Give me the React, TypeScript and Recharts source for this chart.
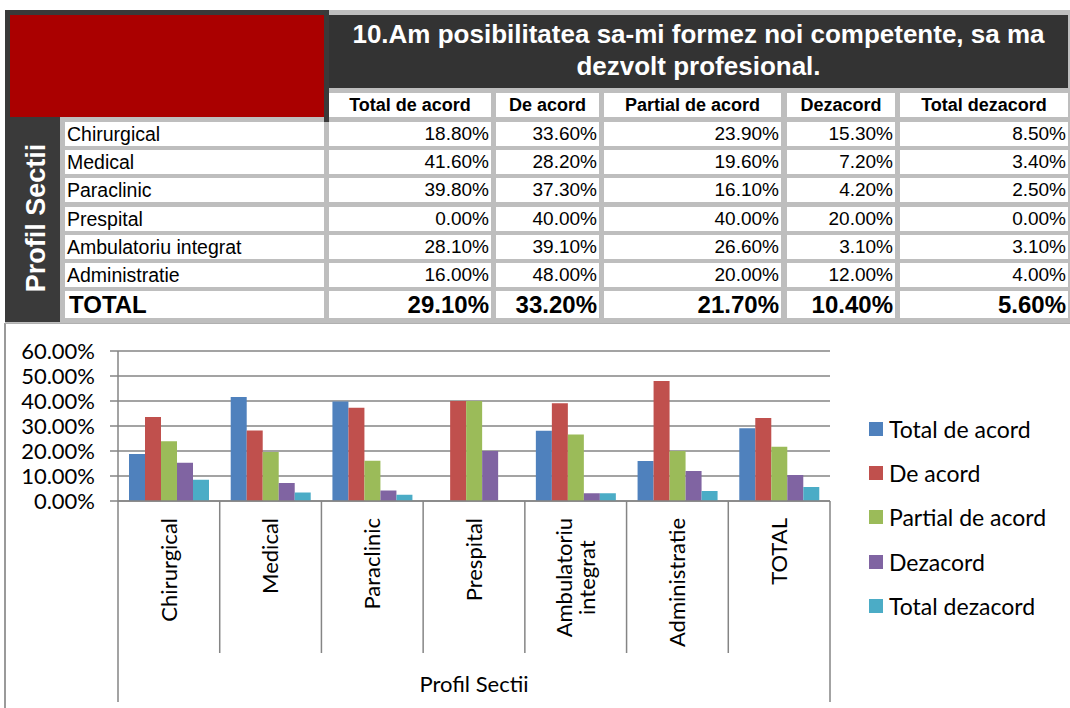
import React from "react";
import { BarChart, Bar, XAxis, YAxis, CartesianGrid, Legend } from "recharts";

const categories = [
  "Chirurgical",
  "Medical",
  "Paraclinic",
  "Prespital",
  "Ambulatoriu integrat",
  "Administratie",
  "TOTAL",
];
const totalDeAcord = [18.8, 41.6, 39.8, 0.0, 28.1, 16.0, 29.1];
const deAcord = [33.6, 28.2, 37.3, 40.0, 39.1, 48.0, 33.2];
const partialDeAcord = [23.9, 19.6, 16.1, 40.0, 26.6, 20.0, 21.7];
const dezacord = [15.3, 7.2, 4.2, 20.0, 3.1, 12.0, 10.4];
const totalDezacord = [8.5, 3.4, 2.5, 0.0, 3.1, 4.0, 5.6];
const seriesNames = ["Total de acord", "De acord", "Partial de acord", "Dezacord", "Total dezacord"];
const seriesColors = ["#4f81bd", "#c0504d", "#9bbb59", "#8064a2", "#4bacc6"];
const yTicks = [0, 10, 20, 30, 40, 50, 60];
const titleLines = ["10.Am posibilitatea sa-mi formez noi competente, sa ma", "dezvolt profesional."];
const sideTitle = "Profil Sectii";
const axisTitle = "Profil Sectii";

const seriesValues = [totalDeAcord, deAcord, partialDeAcord, dezacord, totalDezacord];
const keys = ["s0", "s1", "s2", "s3", "s4"];
const data = categories.map((name, i) => {
  const row: Record<string, any> = { name };
  keys.forEach((k, j) => (row[k] = seriesValues[j][i]));
  return row;
});

const pct = (v: number) => `${v.toFixed(2)}%`;

// table layout
const TABLE_FONT = "'Liberation Sans', Arial, sans-serif";
const colEdges = [
  [65, 324],
  [329, 491],
  [496, 599],
  [604, 781],
  [787, 895],
  [900, 1068],
];
const ROW0 = 122;
const ROW_PITCH = 28.2;

// chart layout
const CHART_FONT = "Lato, 'Open Sans', sans-serif";
const CHART_TOP = 323;
const CHART_W = 1070;
const CHART_H = 385;
const Y_AXIS_W = 118;
const RIGHT_M = 240;
const BAND = (CHART_W - Y_AXIS_W - RIGHT_M) / categories.length;
const GRID = "#858585";

let ctx: CanvasRenderingContext2D | null = null;
function textWidth(s: string) {
  if (!ctx) ctx = document.createElement("canvas").getContext("2d");
  if (!ctx) return s.length * 10;
  ctx.font = `22px ${CHART_FONT}`;
  return ctx.measureText(s).width;
}

function CategoryTick(props: any) {
  const { x, y, payload, index } = props;
  const half = BAND / 2;
  const last = index === categories.length - 1;
  const words = String(payload.value).split(" ");
  const maxW = Math.max(...words.map(textWidth));
  const lh = 23;
  return (
    <g>
      <line x1={x - half} x2={x - half} y1={y} y2={y + (index === 0 ? 201 : 152)} stroke={GRID} strokeWidth={1.5} />
      {last && <line x1={x + half} x2={x + half} y1={y} y2={y + 201} stroke={GRID} strokeWidth={1.5} />}
      <text
        transform={`translate(${x},${y + 17}) rotate(-90)`}
        textAnchor="middle"
        fontFamily={CHART_FONT}
        fontSize={22}
        fill="#000"
      >
        {words.map((w, i) => (
          <tspan key={i} x={-maxW / 2} y={(i - (words.length - 1) / 2) * lh} dy="0.35em">
            {w}
          </tspan>
        ))}
      </text>
    </g>
  );
}

function LegendBox() {
  return (
    <div style={{ fontFamily: CHART_FONT, fontSize: 23, color: "#000" }}>
      {seriesNames.map((n, i) => (
        <div key={n} style={{ height: 44.2, display: "flex", alignItems: "center", whiteSpace: "nowrap" }}>
          <span style={{ width: 14, height: 14, background: seriesColors[i], marginRight: 6, display: "inline-block" }} />
          <span>{n}</span>
        </div>
      ))}
    </div>
  );
}

const abs = (l: number, t: number, w: number, h: number, extra: React.CSSProperties = {}): React.CSSProperties => ({
  position: "absolute",
  left: l,
  top: t,
  width: w,
  height: h,
  boxSizing: "border-box",
  ...extra,
});

export default function App() {
  const rowCells = (top: number, h: number, label: string, vals: number[], bold: boolean) => (
    <React.Fragment key={label}>
      <div
        style={abs(colEdges[0][0], top, colEdges[0][1] - colEdges[0][0], h, {
          background: "#fff",
          fontSize: bold ? 24 : 19.5,
          fontWeight: bold ? 700 : 400,
          lineHeight: `${h}px`,
          paddingLeft: bold ? 4 : 2,
        })}
      >
        {label}
      </div>
      {vals.map((v, j) => (
        <div
          key={j}
          style={abs(colEdges[j + 1][0], top, colEdges[j + 1][1] - colEdges[j + 1][0], h, {
            background: "#fff",
            fontSize: bold ? 24 : 19,
            fontWeight: bold ? 700 : 400,
            lineHeight: `${h}px`,
            textAlign: "right",
            paddingRight: 2,
          })}
        >
          {pct(v)}
        </div>
      ))}
    </React.Fragment>
  );

  return (
    <div style={{ position: "absolute", left: 0, top: 0, width: 1070, height: 708, background: "#fff", fontFamily: TABLE_FONT, color: "#000" }}>
      {/* table frame */}
      <div style={abs(5, 10, 1065, 313, { background: "#bebebe" })} />
      <div style={abs(5, 10, 55, 312, { background: "#3a3a3a" })} />
      <div style={abs(5, 10, 324, 5, { background: "#3a3a3a" })} />
      <div style={abs(324, 10, 5, 112, { background: "#3a3a3a" })} />
      <div style={abs(10, 15, 314, 102, { background: "#aa0000" })} />
      <div
        style={abs(329, 15, 739, 73, {
          background: "#333333",
          color: "#fff",
          fontWeight: 700,
          fontSize: 26,
          lineHeight: "32px",
          textAlign: "center",
          paddingTop: 3,
          whiteSpace: "nowrap",
        })}
      >
        {titleLines[0]}
        <br />
        {titleLines[1]}
      </div>
      <div
        style={abs(36 - 100, 218 - 15, 200, 30, {
          color: "#fff",
          fontWeight: 700,
          fontSize: 27,
          lineHeight: "30px",
          textAlign: "center",
          transform: "rotate(-90deg)",
          whiteSpace: "nowrap",
        })}
      >
        {sideTitle}
      </div>
      {seriesNames.map((n, j) => (
        <div
          key={n}
          style={abs(colEdges[j + 1][0], 93, colEdges[j + 1][1] - colEdges[j + 1][0], 24, {
            background: "#fff",
            fontWeight: 700,
            fontSize: 18,
            lineHeight: "24px",
            textAlign: "center",
            whiteSpace: "nowrap",
          })}
        >
          {n}
        </div>
      ))}
      {categories.map((c, i) => {
        const last = i === categories.length - 1;
        return rowCells(ROW0 + i * ROW_PITCH, last ? 27 : 24, c, seriesValues.map((s) => s[i]), last);
      })}

      {/* chart box */}
      <div style={abs(4, CHART_TOP, 1066, CHART_H, { background: "#fff", borderLeft: "2px solid #9a9a9a", borderTop: "1px solid #b0b0b0" })} />
      <div style={{ position: "absolute", left: 0, top: CHART_TOP }}>
        <BarChart
          width={CHART_W}
          height={CHART_H}
          data={data}
          margin={{ top: 28, right: RIGHT_M, bottom: 6, left: 0 }}
          barCategoryGap={11}
          barGap={0}
        >
          <CartesianGrid vertical={false} stroke={GRID} strokeWidth={1.5} />
          <XAxis
            dataKey="name"
            interval={0}
            height={201}
            tickSize={0}
            tickMargin={0}
            tickLine={false}
            axisLine={{ stroke: GRID, strokeWidth: 1.5 }}
            tick={<CategoryTick />}
            label={{ value: axisTitle, position: "insideBottom", offset: 10, fontFamily: CHART_FONT, fontSize: 22, fill: "#000" }}
          />
          <YAxis
            width={Y_AXIS_W}
            domain={[0, 60]}
            ticks={yTicks}
            interval={0}
            tickFormatter={pct}
            tickSize={8}
            tickMargin={15}
            axisLine={{ stroke: GRID, strokeWidth: 1.5 }}
            tickLine={{ stroke: GRID, strokeWidth: 1.5 }}
            tick={{ fontFamily: CHART_FONT, fontSize: 22, fill: "#000" }}
          />
          <Legend
            layout="vertical"
            align="center"
            verticalAlign="middle"
            wrapperStyle={{ left: 869, top: 84, width: 200 }}
            content={() => <LegendBox />}
          />
          {keys.map((k, j) => (
            <Bar key={k} dataKey={k} name={seriesNames[j]} fill={seriesColors[j]} isAnimationActive={false} />
          ))}
        </BarChart>
      </div>
    </div>
  );
}
